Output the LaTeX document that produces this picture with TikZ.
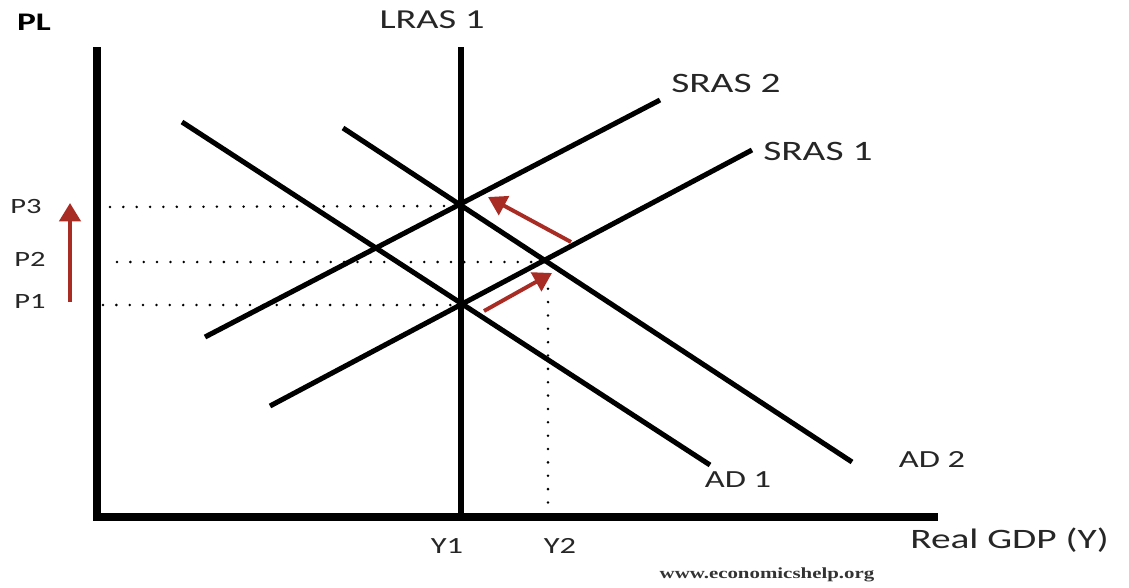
\documentclass[tikz,border=0pt]{standalone}
\usepackage{fontspec}
\setmainfont[FakeStretch=1.4]{Carlito}
\newfontfamily\webfont[FakeStretch=1.35]{Liberation Serif}
\usepackage{xcolor}
\usetikzlibrary{arrows.meta,positioning,calc}
\definecolor{shiftred}{RGB}{168,44,36}

\begin{document}
\begin{tikzpicture}[
  x=0.025cm, y=-0.025cm,
  curve/.style={line width=3.6pt},
  axisline/.style={line width=5.6pt},
  guide/.style={line width=2pt, line cap=round, dash pattern=on 0pt off 9.5pt},
  shiftarrow/.style={draw=shiftred, line width=2.8pt, -{Triangle[length=13pt,width=15pt]}},
  lab/.style={font=\fontsize{20}{22}\selectfont, inner sep=0pt, text=black!85},
  tick/.style={font=\fontsize{15.5}{17}\selectfont, inner sep=0pt, text=black!85}
]
  \useasboundingbox (0,0) rectangle (1129,587);

  % axes
  \coordinate (o) at (97,517);
  \coordinate (ytop) at (97,47);
  \coordinate (xend) at (938,517);
  \draw[axisline] (ytop) -- (97,520);
  \draw[axisline] (93,517) -- (xend);
  \node[font=\bfseries\fontsize{18}{20}\selectfont, inner sep=0pt, anchor=base] (pl) at (34,30) {PL};
  \node[lab, anchor=base west] (gdp) at (910,548) {Real GDP (Y)};

  % LRAS
  \coordinate (lrastop) at (461,47);
  \coordinate (lrasbot) at (461,517);
  \draw[curve] (lrastop) -- (lrasbot);
  \node[lab, font=\fontsize{19.5}{21}\selectfont, anchor=base] (lras) at (432,28) {LRAS 1};

  % SRAS curves
  \coordinate (s2a) at (205,337);
  \coordinate (s2b) at (660,100);
  \coordinate (s1a) at (270,406);
  \coordinate (s1b) at (752,150);
  \draw[curve] (s2a) -- (s2b);
  \draw[curve] (s1a) -- (s1b);
  \node[lab, anchor=base west] (sras2) at (671,92) {SRAS 2};
  \node[lab, anchor=base west] (sras1) at (763,160) {SRAS 1};

  % AD curves
  \coordinate (d1a) at (182,122);
  \coordinate (d1b) at (710,465);
  \coordinate (d2a) at (343,128);
  \coordinate (d2b) at (852,462);
  \draw[curve] (d1a) -- (d1b);
  \draw[curve] (d2a) -- (d2b);
  \node[lab, font=\fontsize{17.5}{19}\selectfont, anchor=base] (ad1) at (738,487) {AD 1};
  \node[lab, font=\fontsize{17.5}{19}\selectfont, anchor=base] (ad2) at (932,467) {AD 2};

  % equilibria
  \coordinate (e1) at (461,305);
  \coordinate (e2) at (548,262);
  \coordinate (e3) at (461,206);
  \node[tick, anchor=base] (p1) at (30,308) {P1};
  \node[tick, anchor=base] (p2) at (30,266) {P2};
  \node[tick, anchor=base] (p3) at (26,213) {P3};
  \draw[guide] (103,305) -- (e1);
  \draw[guide] (117,262) -- (e2);
  \draw[guide] (110,207) -- (e3);
  \draw[guide] (e2) -- (548,512);
  \node[tick, font=\fontsize{16.5}{18}\selectfont, anchor=base] (y1) at (447,553) {Y1};
  \node[tick, font=\fontsize{16.5}{18}\selectfont, anchor=base] (y2) at (560,553) {Y2};

  % shifts
  \coordinate (ua) at (70,302);
  \coordinate (ub) at (70,203);
  \draw[shiftarrow] (ua) -- (ub);
  \coordinate (ra) at (484,311);
  \coordinate (rb) at (552,273);
  \draw[shiftarrow] (ra) -- (rb);
  \coordinate (la) at (571,242);
  \coordinate (lb) at (488,197);
  \draw[shiftarrow] (la) -- (lb);

  \node[font=\webfont\bfseries\fontsize{11}{13}\selectfont, text=black!80, inner sep=0pt, anchor=base] (web) at (767,578) {www.economicshelp.org};
\end{tikzpicture}
\end{document}
